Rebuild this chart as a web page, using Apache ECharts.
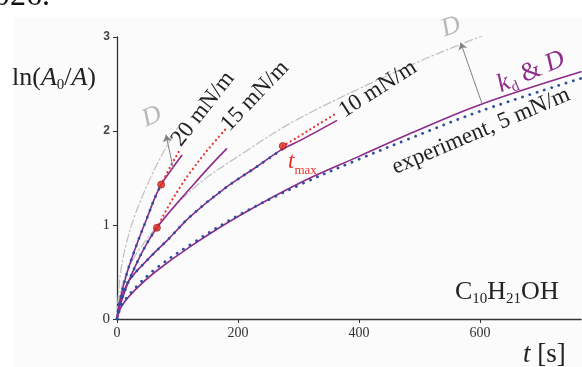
<!DOCTYPE html>
<html><head><meta charset="utf-8">
<script src="https://cdn.jsdelivr.net/npm/echarts@6/dist/echarts.min.js"></script>
<style>html,body{margin:0;padding:0;background:#fff}#c{width:582px;height:367px}</style>
</head><body><div id="c"></div>
<script>
// ---- data ----
const xTicks = [0, 200, 400, 600];
const yTicks = [0, 1, 2, 3];

// 5 mN/m
const fit5T = [0, 8, 30, 63, 121, 200, 303, 400, 480, 600, 767];
const fit5V = [0, 0.14, 0.31, 0.50, 0.77, 1.09, 1.45, 1.73, 1.96, 2.28, 2.63];
const exp5T = [0, 8, 30, 63, 121, 200, 303, 400, 480, 600, 767];
const exp5V = [0, 0.15, 0.33, 0.53, 0.79, 1.10, 1.43, 1.70, 1.91, 2.21, 2.56];
// 10 mN/m
const fit10T = [0, 5, 19, 52, 85, 121, 176, 231, 274, 303, 363];
const fit10V = [0, 0.17, 0.40, 0.64, 0.85, 1.09, 1.38, 1.62, 1.81, 1.90, 2.11];
const exp10T = [0, 5, 19, 52, 85, 121, 176, 231, 274];
const exp10V = [0, 0.17, 0.40, 0.64, 0.85, 1.09, 1.38, 1.62, 1.81];
const red10T = [274, 300, 330, 363];
const red10V = [1.84, 1.94, 2.06, 2.19];
// 15 mN/m
const fit15T = [0, 5, 16, 33, 50, 66, 95, 121, 150, 181];
const fit15V = [0, 0.14, 0.35, 0.60, 0.81, 0.97, 1.20, 1.39, 1.60, 1.81];
const exp15T = [0, 5, 16, 33, 50, 66];
const exp15V = [0, 0.14, 0.35, 0.60, 0.81, 0.97];
const red15T = [66, 85, 107, 121, 150, 181];
const red15V = [0.97, 1.20, 1.43, 1.56, 1.80, 2.03];
// 20 mN/m
const fit20T = [0, 5, 16, 33, 50, 62, 73, 90, 107];
const fit20V = [0, 0.20, 0.48, 0.80, 1.08, 1.28, 1.43, 1.59, 1.74];
const exp20T = [0, 5, 16, 33, 50, 62, 73];
const exp20V = [0, 0.20, 0.48, 0.80, 1.08, 1.28, 1.43];
const red20T = [73, 88, 104];
const red20V = [1.43, 1.62, 1.80];
// D-only curves
const d20T = [0, 5, 15, 30, 58, 85, 107];
const d20V = [0, 0.45, 0.79, 1.11, 1.54, 1.87, 2.10];
const d5T = [0, 10, 40, 121, 212, 303, 485, 603];
const d5V = [0, 0.39, 0.77, 1.36, 1.78, 2.14, 2.70, 3.01];
// t_max points
const tmaxT = [73, 66, 274];
const tmaxV = [1.43, 0.97, 1.84];
// arrows (from fit to D curve)
const arrowFrom = [[93, 1.60], [604, 2.28]];
const arrowTo = [[81, 1.96], [568, 2.94]];

// ---- styling ----
const SERIF = '"Liberation Serif","DejaVu Serif",serif';
const PURPLE = '#8e2a8c', BLUE = '#2d4f9e', RED = '#e8322b', GREY = '#c2c2c2', DGREY = '#b8b8b8';
function zip(t, v) { return t.map((x, i) => [x, v[i]]); }

function lineS(t, v, color, width, type, z) {
  return { type: 'line', data: zip(t, v), smooth: 0.35, showSymbol: false, silent: true, z: z,
    lineStyle: { color: color, width: width, type: type, cap: 'round' } };
}
const dotB = [0.1, 7.5], dotR = [0.1, 4.5], dashDot = [8, 3, 1.5, 3];

const series = [
  lineS(d20T, d20V, GREY, 1.3, dashDot, 1),
  lineS(d5T, d5V, GREY, 1.3, dashDot, 1),
  lineS(fit5T, fit5V, PURPLE, 1.6, 'solid', 3),
  lineS(fit10T, fit10V, PURPLE, 1.6, 'solid', 3),
  lineS(fit15T, fit15V, PURPLE, 1.6, 'solid', 3),
  lineS(fit20T, fit20V, PURPLE, 1.6, 'solid', 3),
  lineS(exp5T, exp5V, BLUE, 2.8, dotB, 4),
  lineS(exp10T, exp10V, BLUE, 2.8, dotB, 4),
  lineS(exp15T, exp15V, BLUE, 2.8, dotB, 4),
  lineS(exp20T, exp20V, BLUE, 2.8, dotB, 4),
  lineS(red10T, red10V, RED, 2.2, dotR, 4),
  lineS(red15T, red15V, RED, 2.2, dotR, 4),
  lineS(red20T, red20V, RED, 2.2, dotR, 4),
  { type: 'scatter', data: zip(tmaxT, tmaxV), symbolSize: 7, z: 5, silent: true,
    itemStyle: { color: '#e02a22', borderColor: '#8a1010', borderWidth: 0.8 } },
  { type: 'lines', coordinateSystem: 'cartesian2d', z: 6, silent: true,
    data: arrowFrom.map((p, i) => ({ coords: [p, arrowTo[i]] })),
    symbol: ['none', 'arrow'], symbolSize: [0, 7],
    lineStyle: { color: '#808080', width: 1, opacity: 1, curveness: 0 } }
];

function st(base, extra) { const o = Object.assign({}, base, extra || {}); if (o.color) o.fill = o.color; return o; }
const main = { fontFamily: SERIF, fontSize: 26, lineHeight: 30, color: '#222', fill: '#222' };
const ital = { fontFamily: SERIF, fontSize: 26, fontStyle: 'italic', lineHeight: 30, color: '#222', fill: '#222' };
const sub = { fontFamily: SERIF, fontSize: 15, lineHeight: 10, verticalAlign: 'bottom', color: '#222', fill: '#222' };

function rtext(x, y, rot, text, rich, size) {
  return { type: 'text', x: x, y: y, rotation: rot, z: 100, silent: true,
    style: { text: text, rich: rich, fill: '#222', font: (size || 23) + 'px ' + SERIF,
      textAlign: 'center', textVerticalAlign: 'middle', align: 'center', verticalAlign: 'middle' } };
}
function ltext(x, y, text, rich) {
  return { type: 'text', x: x, y: y, z: 100, silent: true,
    style: { text: text, rich: rich, textAlign: 'left', align: 'left',
      textVerticalAlign: 'middle', verticalAlign: 'middle' } };
}
const deg = Math.PI / 180;

const graphics = [
  { type: 'rect', shape: { x: 13, y: 17, width: 570, height: 350 }, style: { fill: '#fbfbfb' }, z: -10, silent: true },
  { type: 'text', x: -6, y: -19, z: 100, silent: true, style: { text: '026.', font: '32px ' + SERIF, fill: '#111',
      textVerticalAlign: 'top', verticalAlign: 'top' } },
  rtext(203, 109, 52 * deg, '20 mN/m'),
  rtext(255, 96, 46.5 * deg, '15 mN/m'),
  rtext(378, 89, 32.6 * deg, '10 mN/m'),
  rtext(481, 131, 23 * deg, 'experiment, 5 mN/m'),
  rtext(531, 72, 23 * deg, '{i|k}{s|d}{n| & }{i|D}', {
    i: st(ital, { color: PURPLE }), n: st(main, { color: PURPLE }), s: st(sub, { color: PURPLE }) }),
  rtext(451, 27, 20 * deg, '{i|D}', { i: st(ital, { color: DGREY }) }),
  rtext(152, 117, 22 * deg, '{i|D}', { i: st(ital, { color: DGREY }) }),
  ltext(288, 162, '{i|t}{s|max}', { i: st(ital, { color: RED, fontSize: 23 }), s: st(sub, { color: RED, fontSize: 13 }) }),
  ltext(455, 292, '{n|C}{s|10}{n|H}{s|21}{n|OH}', { n: st(main), s: st(sub) }),
  ltext(523, 355, '{i|t}{n| [s]}', { i: st(ital, { fontSize: 27 }), n: st(main, { fontSize: 27 }) }),
  ltext(12, 78, '{n|ln(}{i|A}{s|0}{n|/}{i|A}{n|)}', { n: st(main), i: st(ital), s: st(sub) })
];

const chart = echarts.init(document.getElementById('c'), null, { renderer: 'canvas' });
chart.setOption({
  animation: false,
  backgroundColor: '#ffffff',
  grid: { left: 117, top: 37, width: 464, height: 282, containLabel: false },
  xAxis: {
    type: 'value', min: 0, max: 767, interval: 200,
    splitLine: { show: false },
    axisLine: { lineStyle: { color: '#333', width: 1.3 } },
    axisTick: { length: 4, lineStyle: { color: '#333' }, customValues: xTicks },
    axisLabel: { customValues: xTicks, margin: 7, color: '#333', fontFamily: SERIF, fontSize: 14 }
  },
  yAxis: {
    type: 'value', min: 0, max: 3, interval: 1,
    splitLine: { show: false },
    axisLine: { show: true, lineStyle: { color: '#333', width: 1.3 } },
    axisTick: { show: true, length: 4, lineStyle: { color: '#333' }, customValues: yTicks },
    axisLabel: { customValues: yTicks, margin: 7,
      formatter: v => v >= 2 ? '{b|' + v + '}' : '{s|' + v + '}',
      rich: { b: { fontFamily: '"Liberation Sans",Arial,sans-serif', fontWeight: 'bold', fontSize: 12, color: '#444' },
              s: { fontFamily: SERIF, fontSize: 15, color: '#333' } } }
  },
  series: series,
  graphic: graphics
});
</script></body></html>
